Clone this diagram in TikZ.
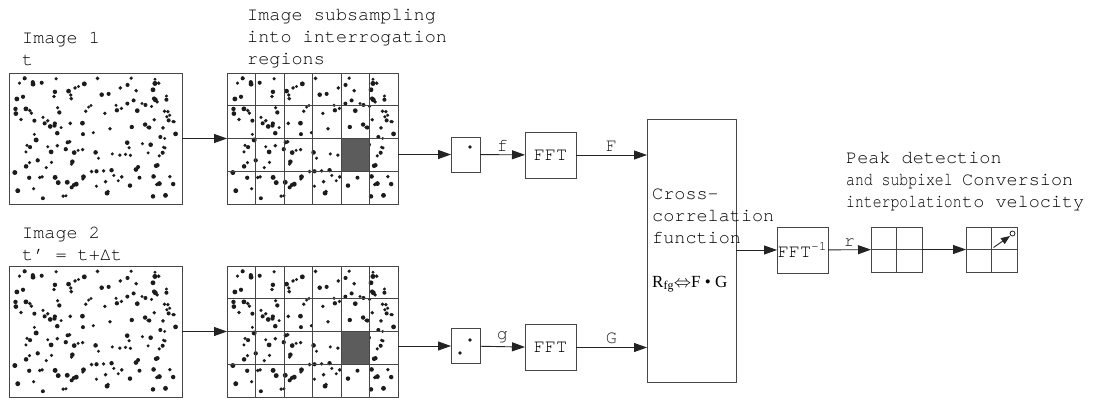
\documentclass[tikz,border=0pt]{standalone}
\usepackage{fontspec}
\setmainfont{TeX Gyre Cursor}
\newfontfamily\serifrm{Liberation Serif}
\newfontfamily\narrowmono[FakeStretch=0.8]{TeX Gyre Cursor}
\usepackage{tikz}
\usetikzlibrary{arrows.meta,calc,positioning}
\definecolor{LineGray} {RGB}{70,70,70}
\definecolor{DotBlack} {RGB}{28,28,28}
\definecolor{CellGray} {RGB}{92,92,92}
\definecolor{ArrowDark}{RGB}{35,35,35}

% same seed -> same particle pattern in every frame
\newcommand{\particles}[1]{%
  \begin{scope}[shift={(#1)}]
    \pgfmathsetseed{2718}
    \foreach \i in {1,...,160}{%
      \pgfmathsetmacro{\px}{5+rnd*162}
      \pgfmathsetmacro{\py}{5+rnd*121}
      \pgfmathsetmacro{\pr}{1.6+rnd*0.9}
      \fill[DotBlack] (\px,\py) circle[radius=\pr pt];
    }
  \end{scope}}
% node, columns, rows
\newcommand{\gridlines}[3]{%
  \pgfmathtruncatemacro{\lastc}{#2-1}
  \pgfmathtruncatemacro{\lastr}{#3-1}
  \foreach \k in {1,...,\lastc}
    \draw[cellline] ($(#1.north west)!\k/#2!(#1.north east)$) -- ($(#1.south west)!\k/#2!(#1.south east)$);
  \foreach \k in {1,...,\lastr}
    \draw[cellline] ($(#1.north west)!\k/#3!(#1.south west)$) -- ($(#1.north east)!\k/#3!(#1.south east)$);}

\begin{document}
\begin{tikzpicture}[x=1pt,y=-1pt,
  every node/.style={font=\fontsize{18.5}{22}\selectfont},
  frame/.style={draw=LineGray,line width=0.9pt,inner sep=0,outer sep=0},
  img/.style={frame,minimum width=173pt,minimum height=131pt},
  gridimg/.style={frame,minimum width=171pt,minimum height=131pt},
  smallbox/.style={frame,minimum width=29pt,minimum height=35pt},
  fftbox/.style={frame,minimum width=51pt,minimum height=46pt},
  cellbox/.style={frame,minimum width=51pt,minimum height=45pt},
  lbl/.style={inner sep=0,anchor=north west,align=left},
  edgelbl/.style={midway,above,inner sep=3pt},
  cellline/.style={LineGray,line width=0.9pt},
  arr/.style={ArrowDark,line width=0.9pt,-{Triangle[length=13pt,width=9pt]}}]
\useasboundingbox (0,0) rectangle (1097,399);

% frames and regions
\node[img] (img1) at (95.5,138.5) {};
\node[img] (img2) at (95.5,331.5) {};
\node[gridimg] (grid1) at (312.5,138.5) {};
\node[gridimg] (grid2) at (312.5,331.5) {};
\particles{img1.north west}
\particles{img2.north west}
\particles{grid1.north west}
\particles{grid2.north west}
\fill[CellGray] ($(grid1.north west)+(4*28.5,2*32.75)$) rectangle ++(28.5,32.75);
\fill[CellGray] ($(grid2.north west)+(4*28.5,2*32.75)$) rectangle ++(28.5,32.75);
\draw[cellline] (img1.north west) rectangle (img1.south east);
\draw[cellline] (img2.north west) rectangle (img2.south east);
\draw[cellline] (grid1.north west) rectangle (grid1.south east);
\draw[cellline] (grid2.north west) rectangle (grid2.south east);
\gridlines{grid1}{6}{4}
\gridlines{grid2}{6}{4}

\node[lbl] (lab1) at (22,32) {Image 1\\t};
\node[lbl] (lab2) at (22,227) {Image 2\\t' = t+Δt};
\node[lbl] (labsub) at (247,9) {Image subsampling\\into interrogation\\regions};

% interrogation windows
\node[smallbox] (win1) at (465.5,154.5) {};
\node[smallbox] (win2) at (465.5,346) {};
\fill[DotBlack] ($(win1.center)+(4.5,-7.5)$) circle[radius=1.8pt];
\fill[DotBlack] ($(win2.center)+(4.5,-6)$) circle[radius=1.8pt];
\fill[DotBlack] ($(win2.center)+(-5.5,7)$) circle[radius=1.8pt];

\node[fftbox] (fft1) at (550.5,155) {FFT};
\node[fftbox] (fft2) at (550.5,347.5) {FFT};

\node[frame,minimum width=89pt,minimum height=263pt] (xcorr) at (691.5,250.5) {};
\node[lbl] (xcorrtxt) at (652,189) {Cross-\\correlation\\function};
\node[inner sep=0,anchor=base west,font=\fontsize{17}{19}\selectfont] (rfg) at (652,287)
  {\serifrm R\textsubscript{fg}$\Leftrightarrow$F • G};

\node[fftbox,minimum height=46pt] (ifft) at (802.5,250) {FFT\textsuperscript{-1}};
\node[cellbox] (peak) at (896.5,249.5) {};
\node[cellbox] (vel) at (991.5,249.5) {};
\gridlines{peak}{2}{2}
\gridlines{vel}{2}{2}
\draw[ArrowDark,line width=0.9pt,-{Triangle[length=9pt,width=7pt]}]
  ($(vel.center)+(2,-2)$) -- ($(vel.center)+(18.5,-13.5)$);
\draw[ArrowDark,line width=0.8pt] ($(vel.center)+(21,-16)$) circle[radius=2.5pt];

\node[lbl] (peaktxt) at (846,152) {Peak detection\\{\narrowmono and subpixel}\\{\narrowmono interpolation}};
\node[lbl] (veltxt) at (962,174) {Conversion\\to velocity};

% connectors
\draw[arr] (img1) -- (grid1);
\draw[arr] (img2) -- (grid2);
\draw[arr] (grid1.east |- win1) -- (win1);
\draw[arr] (grid2.east |- win2) -- (win2);
\draw[arr] (win1) -- (fft1) node[edgelbl] (lf) {f};
\draw[arr] (win2) -- (fft2) node[edgelbl] (lg) {g};
\draw[arr] (fft1) -- (fft1 -| xcorr.west) node[edgelbl] (lF) {F};
\draw[arr] (fft2) -- (fft2 -| xcorr.west) node[edgelbl] (lG) {G};
\draw[arr] (xcorr.east |- ifft) -- (ifft);
\draw[arr] (ifft) -- (peak) node[edgelbl] (lr) {r};
\draw[arr] (peak) -- (vel);
\end{tikzpicture}
\end{document}
